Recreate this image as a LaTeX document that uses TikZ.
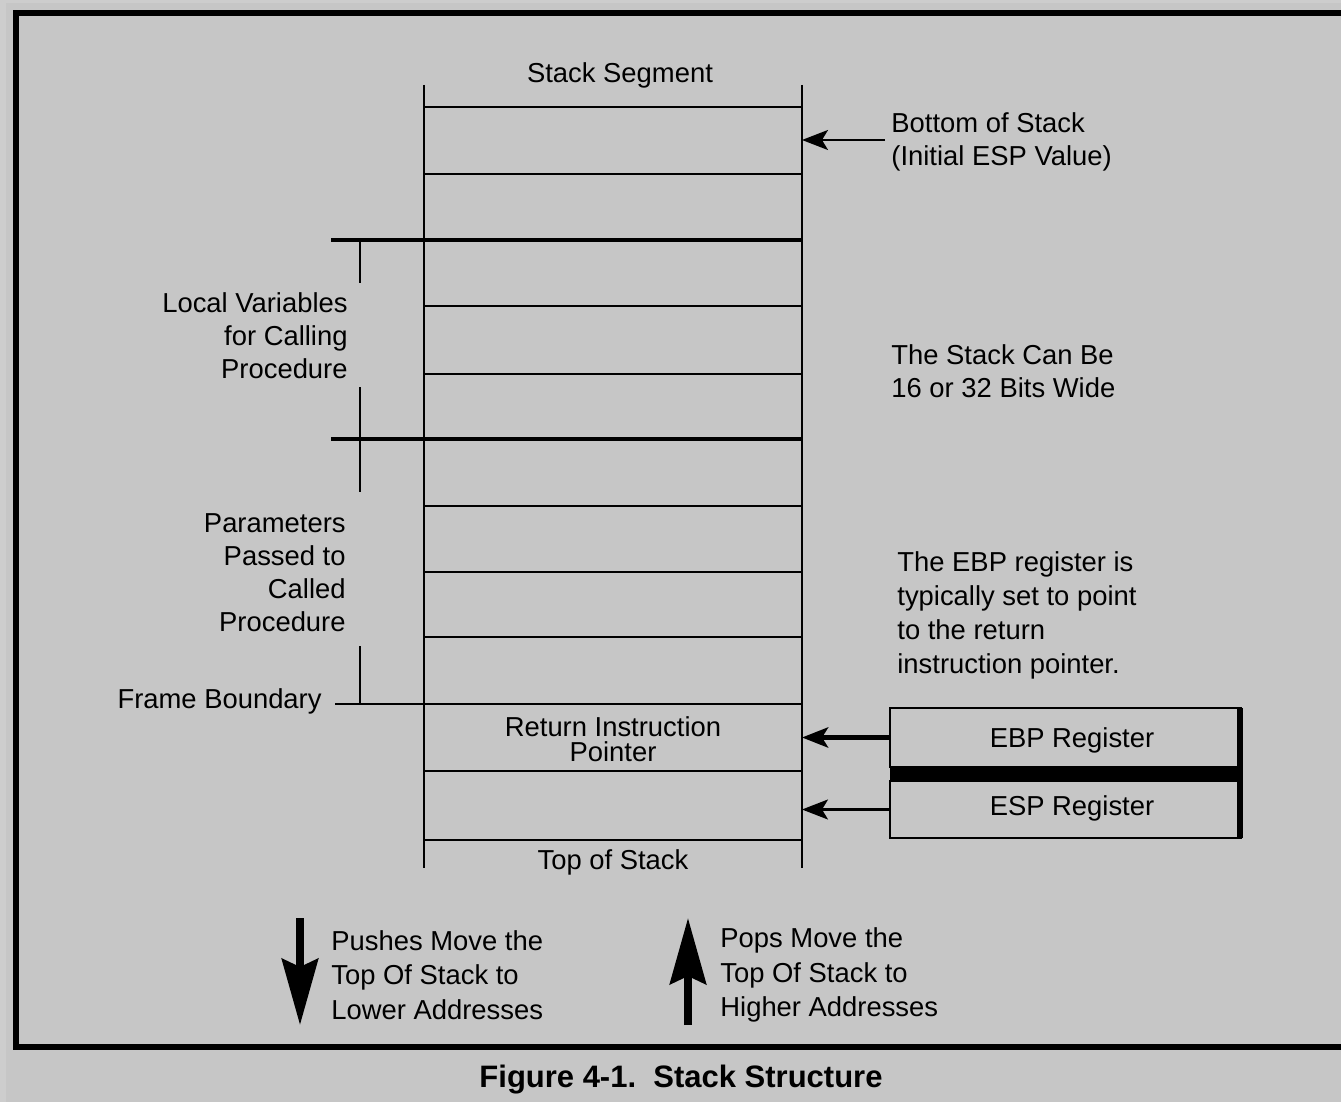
\documentclass[tikz,border=0pt]{standalone}
\usepackage{fontspec}
\setmainfont{Liberation Sans}
\usetikzlibrary{arrows.meta}
\definecolor{bg}{HTML}{C6C6C6}
\definecolor{bgl}{HTML}{CDCDCD}
\begin{document}
\begin{tikzpicture}[x=0.5pt,y=-0.5pt,
  thinln/.style={line width=1.1pt},
  thickln/.style={line width=2.4pt},
  frameln/.style={line width=3.2pt},
  txt/.style={inner sep=0pt, font=\fontsize{13.7}{16.5}\selectfont},
  ptr/.style={line width=1.1pt, -{Stealth[length=13pt,width=10pt,inset=3pt]}},
  ptrthick/.style={line width=2.6pt, -{Stealth[length=13pt,width=10pt,inset=3pt]}},
  bigarrow/.style={line width=4pt, -{Stealth[length=33pt,width=18pt,inset=4pt]}},
  regbox/.style={draw, line width=1.2pt, inner sep=0pt, minimum width=175.5pt},
]
\fill[bgl] (0,0) rectangle (1341,1102);
\fill[bg] (6,3) rectangle (1341,1102);
\useasboundingbox (0,0) rectangle (1341,1102);
% outer frame
\draw[frameln] (1341,13) -- (16,13) -- (16,1047) -- (1341,1047);
% stack
\draw[thinln] (424,85) -- (424,868);
\draw[thinln] (802,85) -- (802,868);
\foreach \yy in {107,174,306,374,506,572,637,771,840}
  \draw[thinln] (424,\yy) -- (802,\yy);
\draw[thinln] (335,704) -- (802,704);
\draw[thickln] (331,240) -- (802,240);
\draw[thickln] (331,439) -- (802,439);
% brackets
\draw[thinln] (360,240) -- (360,283);
\draw[thinln] (360,387) -- (360,492);
\draw[thinln] (360,646) -- (360,704);
% texts
\node[txt] (segtitle) at (620,75) {Stack Segment};
\node[txt, anchor=west, align=left] (bos) at (891,142) {Bottom of Stack\\(Initial ESP Value)};
\node[txt, anchor=east, align=right] (locvars) at (348,336) {Local Variables\\for Calling\\Procedure};
\node[txt, anchor=west, align=left] (wide) at (891,371) {The Stack Can Be\\16 or 32 Bits Wide};
\node[txt, anchor=east, align=right] (params) at (346,573) {Parameters\\Passed to\\Called\\Procedure};
\node[txt, anchor=west, align=left, font=\fontsize{13.7}{17}\selectfont] (ebpnote) at (897,615) {The EBP register is\\typically set to point\\to the return\\instruction pointer.};
\node[txt, anchor=east] (fb) at (322,701) {Frame Boundary};
\node[txt, align=center, font=\fontsize{13.7}{12.5}\selectfont] (rip) at (613,739) {Return Instruction\\Pointer};
\node[txt] (tos) at (613,862) {Top of Stack};
% register boxes
\node[regbox, minimum height=29.5pt] (ebpbox) at (1065.5,737.5) {};
\node[regbox, minimum height=28.5pt] (espbox) at (1065.5,809.5) {};
\fill (890,767) rectangle (1241,781);
\draw[line width=3pt] (1240,708) -- (1240,838);
\node[txt] (ebplabel) at (1072,740) {EBP Register};
\node[txt] (esplabel) at (1072,808) {ESP Register};
% pointer arrows
\coordinate (bostail) at (885,140);
\coordinate (bostip) at (802,140);
\coordinate (ebptip) at (802,737.5);
\coordinate (esptip) at (802,809.5);
\draw[ptr] (bostail) -- (bostip);
\draw[ptrthick] (ebpbox.west) -- (ebptip);
\draw[ptr] (espbox.west) -- (esptip);
% push / pop arrows
\coordinate (pushtop) at (300,918);
\coordinate (pushbot) at (300,1025);
\coordinate (popbot) at (688,1025);
\coordinate (poptop) at (688,918);
\draw[bigarrow] (pushtop) -- (pushbot);
\draw[bigarrow] (popbot) -- (poptop);
\node[txt, anchor=west, align=left, font=\fontsize{13.7}{17.2}\selectfont] (pushes) at (331,975) {Pushes Move the\\Top Of Stack to\\Lower Addresses};
\node[txt, anchor=west, align=left, font=\fontsize{13.7}{17.2}\selectfont] (pops) at (720,975) {Pops Move the\\Top Of Stack to\\Higher Addresses};
% caption
\node[inner sep=0pt, font=\fontsize{15.5}{18}\selectfont\bfseries] (cap) at (681,1080) {Figure 4-1.\ \ Stack Structure};
\end{tikzpicture}
\end{document}
